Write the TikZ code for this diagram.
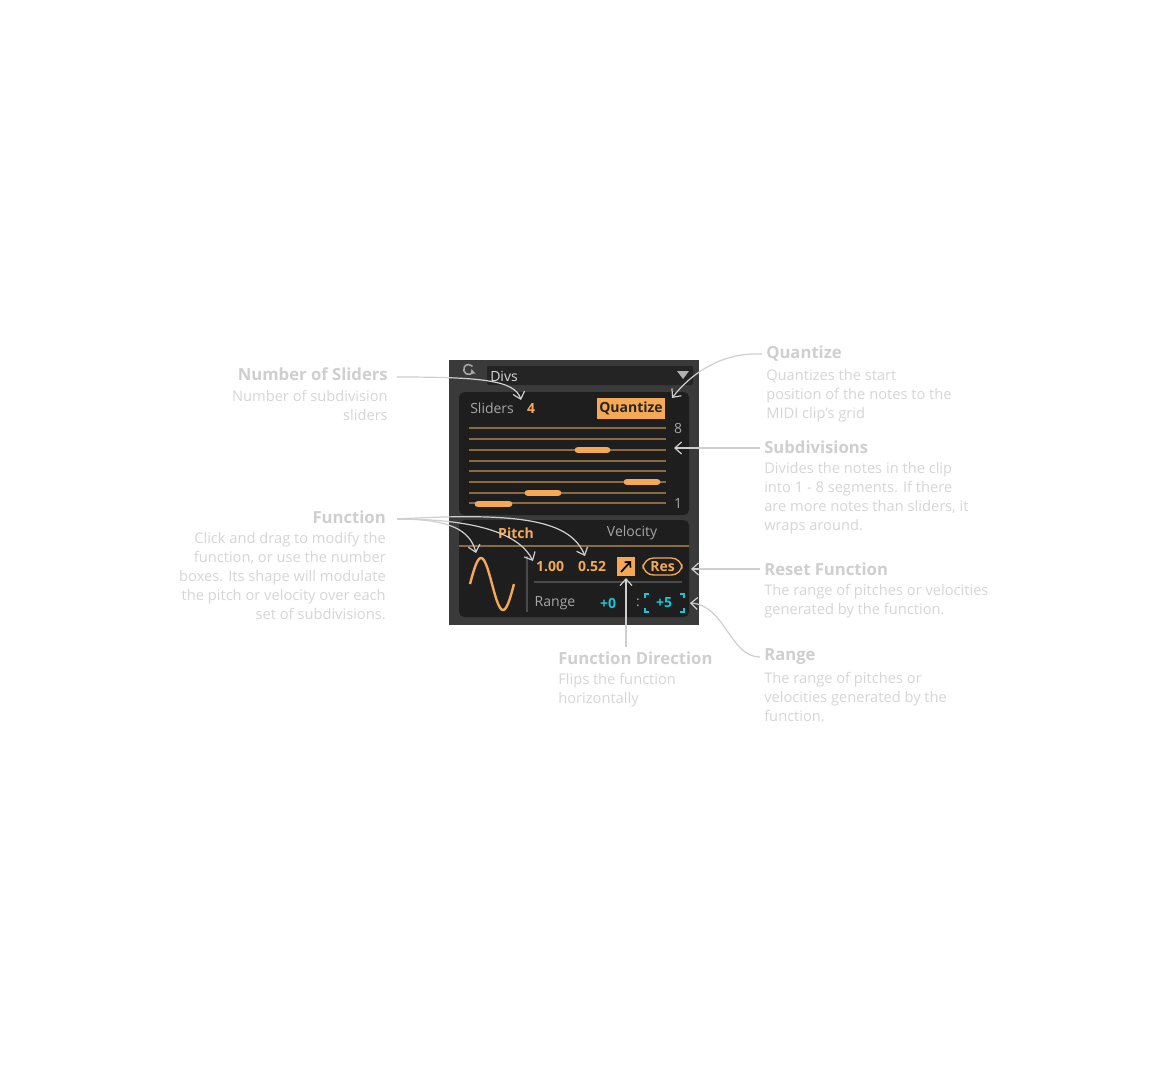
\documentclass[tikz,border=0pt]{standalone}
\usepackage{fontspec}
\usetikzlibrary{arrows.meta}
\setmainfont{Open Sans}
\definecolor{org}{HTML}{F5A955}
\definecolor{cy}{HTML}{1FC3D6}
\definecolor{ann}{HTML}{CFCFCF}
\definecolor{anntx}{HTML}{D6D6D6}
\definecolor{pnl}{HTML}{3A3A3A}
\definecolor{inr}{HTML}{1E1E1E}
\definecolor{ln}{HTML}{8A6A40}
\definecolor{sep}{HTML}{4A4A4A}
\begin{document}
\begin{tikzpicture}[x=0.75pt,y=-0.75pt,
 ttl/.style={font=\bfseries\fontsize{12.5}{15}\selectfont,text=ann,inner sep=0},
 dsc/.style={font=\fontsize{11}{14.25}\selectfont,text=anntx,inner sep=0,align=left},
 dscr/.style={dsc,align=right},
 arr/.style={draw=ann,line width=0.9pt,-{Straight Barb[length=5pt,width=9pt]}},
 ptx/.style={font=\fontsize{10.5}{12}\selectfont,inner sep=0},
 pbx/.style={font=\bfseries\fontsize{10.5}{12}\selectfont,inner sep=0},
 thumb/.style={line width=5pt,org,line cap=round}]
\useasboundingbox[fill=white] (0,0) rectangle (1163,1072);
% panel
\fill[pnl] (449,360) rectangle (699,625);
\draw[gray!70,line width=1.2pt] (473,372) arc (30:320:5) ;
\fill[gray!70] (471.5,369) -- (475.5,373.5) -- (470.5,374) -- cycle;
\fill[inr!80!pnl,rounded corners=1pt] (487,366) rectangle (693,385);
\node[ptx,anchor=west,text=gray!30] (divs) at (490,376) {Divs};
\fill[gray!60] (677,371) -- (689,371) -- (683,379) -- cycle;
\fill[inr,rounded corners=4pt] (459,392) rectangle (689,515);
\node[ptx,anchor=west,text=gray!70] (sl) at (470,408) {Sliders};
\node[pbx,text=org] (four) at (531,408) {4};
\fill[org] (597,398) rectangle (665,419);
\node[pbx,text=black!85] (qz) at (631,408.5) {Quantize};
\foreach \y in {428,439,450,461,471,482,493,503} \draw[ln,line width=1pt] (469,\y) -- (666,\y);
\node[ptx,text=gray!70] (n8) at (678,428) {8};
\node[ptx,text=gray!70] (n1) at (678,503) {1};
\draw[thumb] (578,450) -- (607,450);
\draw[thumb] (627,482) -- (657,482);
\draw[thumb] (528,493) -- (558,493);
\draw[thumb] (478,504) -- (509,504);
\fill[inr,rounded corners=4pt] (459,520) rectangle (689,617);
\node[pbx,text=org] (pitch) at (516,533) {Pitch};
\node[ptx,text=gray!70] (vel) at (632,533) {Velocity};
\draw[ln,line width=1pt] (459,546) -- (689,546);
\draw[org,line width=1.8pt,domain=0:1,samples=60,smooth] plot ({470+44*\x},{584-26*sin(360*\x)});
\draw[sep,line width=1pt] (527,556) -- (527,612);
\node[pbx,text=org] (v1) at (550,567) {1.00};
\node[pbx,text=org] (v2) at (592,567) {0.52};
\fill[org] (617,557) rectangle (635,576);
\node (dirb) at (626,566.5) {};
\draw[black,line width=1.3pt,-{Straight Barb[length=3pt,width=6pt]}] (621,572) -- (631,561);
\draw[org,line width=1pt,rounded corners=8pt] (643,558) rectangle (682,575);
\node[pbx,text=org] (res) at (662.5,566.5) {Res};
\draw[sep,line width=1pt] (534,582) -- (682,582);
\node[ptx,text=gray!70] (rg) at (555,603) {Range};
\node[pbx,text=cy] (p0) at (608,603) {+0};
\node[ptx,text=gray!70] (col) at (638,603) {:};
\node[pbx,text=cy] (p5) at (664,603) {+5};
\draw[cy,line width=1pt] (645,598)--(645,594)--(649,594) (680,594)--(684,594)--(684,598) (645,608)--(645,612)--(649,612) (680,612)--(684,612)--(684,608);
% annotations
\node[ttl,anchor=east] (t1) at (388,374) {Number of Sliders};
\node[dscr,anchor=north east] (d1) at (388,390) {Number of subdivision\\sliders};
\draw[arr] (397,377) .. controls (480,377) and (515,380) .. (521,400);
\node[ttl,anchor=west] (t2) at (766,354) {Quantize};
\node[dsc,anchor=north west] (d2) at (766,369) {Quantizes the start\\position of the notes to the\\MIDI clip’s grid};
\draw[arr] (762,354) .. controls (720,352) and (690,375) .. (672,398);
\node[ttl,anchor=west] (t3) at (764,447) {Subdivisions};
\node[dsc,anchor=north west] (d3) at (764,462) {Divides the notes in the clip\\into 1 - 8 segments. If there\\are more notes than sliders, it\\wraps around.};
\draw[arr] (760,448) -- (674,448);
\node[ttl,anchor=east] (t4) at (386,517) {Function};
\node[dscr,anchor=north east] (d4) at (386,532) {Click and drag to modify the\\function, or use the number\\boxes. Its shape will modulate\\the pitch or velocity over each\\set of subdivisions.};
\draw[arr] (397,519) .. controls (450,519) and (470,530) .. (476,553);
\draw[arr] (397,519) .. controls (480,519) and (520,535) .. (533,561);
\draw[arr] (397,519) .. controls (520,512) and (570,520) .. (585,556);
\node[ttl,anchor=west] (t5) at (764,569) {Reset Function};
\node[dsc,anchor=north west] (d5) at (764,584) {The range of pitches or velocities\\generated by the function.};
\draw[arr] (760,569) -- (691,569);
\node[ttl,anchor=west] (t6) at (764,657) {Range};
\node[dsc,anchor=north west] (d6) at (764,672) {The range of pitches or\\velocities generated by the\\function.};
\draw[arr] (760,657) .. controls (730,657) and (725,605) .. (690,603);
\node[ttl,anchor=west] (t7) at (558,658) {Function Direction};
\node[dsc,anchor=north west] (d7) at (558,673) {Flips the function\\horizontally};
\draw[arr] (626,647) -- (626,578);
\end{tikzpicture}
\end{document}
